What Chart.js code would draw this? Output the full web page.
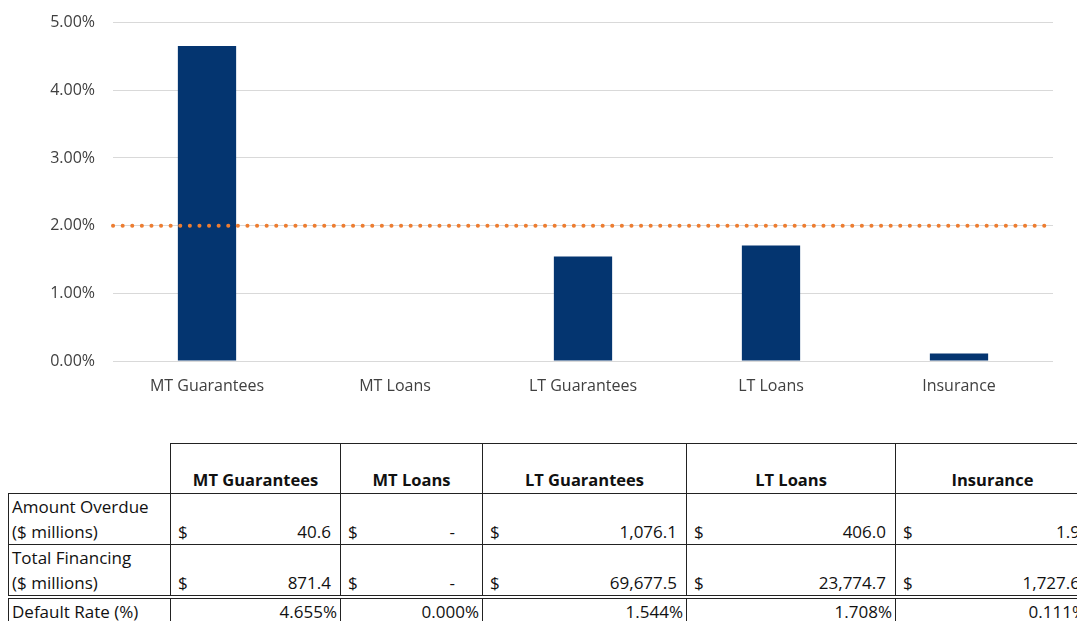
<!DOCTYPE html>
<html>
<head>
<meta charset="utf-8">
<script src="https://cdn.jsdelivr.net/npm/chart.js@4/dist/chart.umd.min.js"></script>
<style>
  html, body { margin: 0; padding: 0; background: #fff; overflow: hidden; }
  body { width: 1077px; height: 621px; position: relative; font-family: "Open Sans", sans-serif; }
  #wrap { position: absolute; left: 0; top: -5px; width: 1077px; height: 415px; }
  #tbl { position: absolute; left: 8px; top: 443px; width: 1081px; border-collapse: collapse; table-layout: fixed; font-size: 17px; color: #111; }
  #tbl td { border: 1.5px solid #222; padding: 0 9px 0 7px; vertical-align: bottom; line-height: 25px; white-space: nowrap; overflow: hidden; }
  #tbl tr.head td { height: 48px; font-weight: bold; font-size: 16.5px; text-align: center; padding: 0 0 1px 0; }
  #tbl tr.head td.blank { border-top: none; border-left: none; }
  #tbl tr.row td { height: 50px; }
  #tbl tr.last td { border-top: 4px double #222; height: 25px; text-align: right; padding-right: 3px; }
  #tbl tr td.lbl { padding-left: 3px; text-align: left; }
  .cur { float: left; }
  .val { float: right; }
  .dash { margin-right: 18px; }
</style>
</head>
<body>
<div id="wrap"><canvas id="myChart"></canvas></div>
<table id="tbl"></table>
<script>
const categories = ['MT Guarantees', 'MT Loans', 'LT Guarantees', 'LT Loans', 'Insurance']
const defaultRate = [4.655, 0.000, 1.544, 1.708, 0.111]
const threshold = [2, 2, 2, 2, 2]
const amountOverdue = ['40.6', '-', '1,076.1', '406.0', '1.9']
const totalFinancing = ['871.4', '-', '69,677.5', '23,774.7', '1,727.6']
const yTicks = [0, 1, 2, 3, 4, 5]
const colWidths = [162, 170, 142, 204, 209, 194]

// table under the chart
const tbl = document.getElementById('tbl')
let html = '<colgroup>' + colWidths.map(w => '<col style="width:' + w + 'px">').join('') + '</colgroup>'
html += '<tr class="head"><td class="blank"></td>' + categories.map(c => '<td>' + c + '</td>').join('') + '</tr>'
const moneyRow = (label, vals) => {
  let s = '<tr class="row"><td class="lbl">' + label + '</td>'
  vals.forEach(v => {
    const cls = v === '-' ? 'val dash' : 'val'
    s += '<td><span class="cur">$</span><span class="' + cls + '">' + v + '</span></td>'
  })
  return s + '</tr>'
}
html += moneyRow('Amount Overdue<br>($ millions)', amountOverdue)
html += moneyRow('Total Financing<br>($ millions)', totalFinancing)
html += '<tr class="last"><td class="lbl">Default Rate (%)</td>' + defaultRate.map(v => '<td>' + v.toFixed(3) + '%</td>').join('') + '</tr>'
tbl.innerHTML = html

const ctx = document.getElementById('myChart')
new Chart(ctx, {
  type: 'bar',
  data: {
    labels: categories,
    datasets: [
      {
        type: 'line',
        label: 'Threshold',
        data: threshold,
        xAxisID: 'x2',
        borderColor: '#ED7D31',
        borderWidth: 4,
        borderCapStyle: 'round',
        borderDash: [0.1, 9.5],
        pointRadius: 0,
        fill: false,
        order: 0
      },
      {
        label: 'Default Rate',
        data: defaultRate,
        backgroundColor: '#043570',
        barPercentage: 0.31,
        categoryPercentage: 1,
        grouped: false,
        order: 1
      }
    ]
  },
  options: {
    responsive: true,
    maintainAspectRatio: false,
    animation: false,
    layout: { padding: { left: 0, right: 24, top: 3, bottom: 0 } },
    plugins: {
      legend: { display: false },
      tooltip: { enabled: false }
    },
    scales: {
      x: {
        grid: { display: false, drawTicks: false },
        border: { display: false },
        ticks: { color: '#404040', font: { family: 'Open Sans', size: 16 }, padding: 16 },
        afterFit: (scale) => { scale.height = 49 }
      },
      x2: {
        type: 'category',
        labels: categories,
        display: false,
        offset: false
      },
      y: {
        min: 0,
        max: 5,
        afterBuildTicks: (scale) => { scale.ticks = yTicks.map(v => ({ value: v })) },
        grid: { color: '#d9d9d9', lineWidth: 1, drawTicks: false },
        border: { display: false },
        ticks: {
          color: '#404040',
          font: { family: 'Open Sans', size: 16 },
          padding: 18,
          callback: (value) => value.toFixed(2) + '%'
        },
        afterFit: (scale) => { scale.width = 113 }
      }
    }
  }
})
</script>
</body>
</html>
